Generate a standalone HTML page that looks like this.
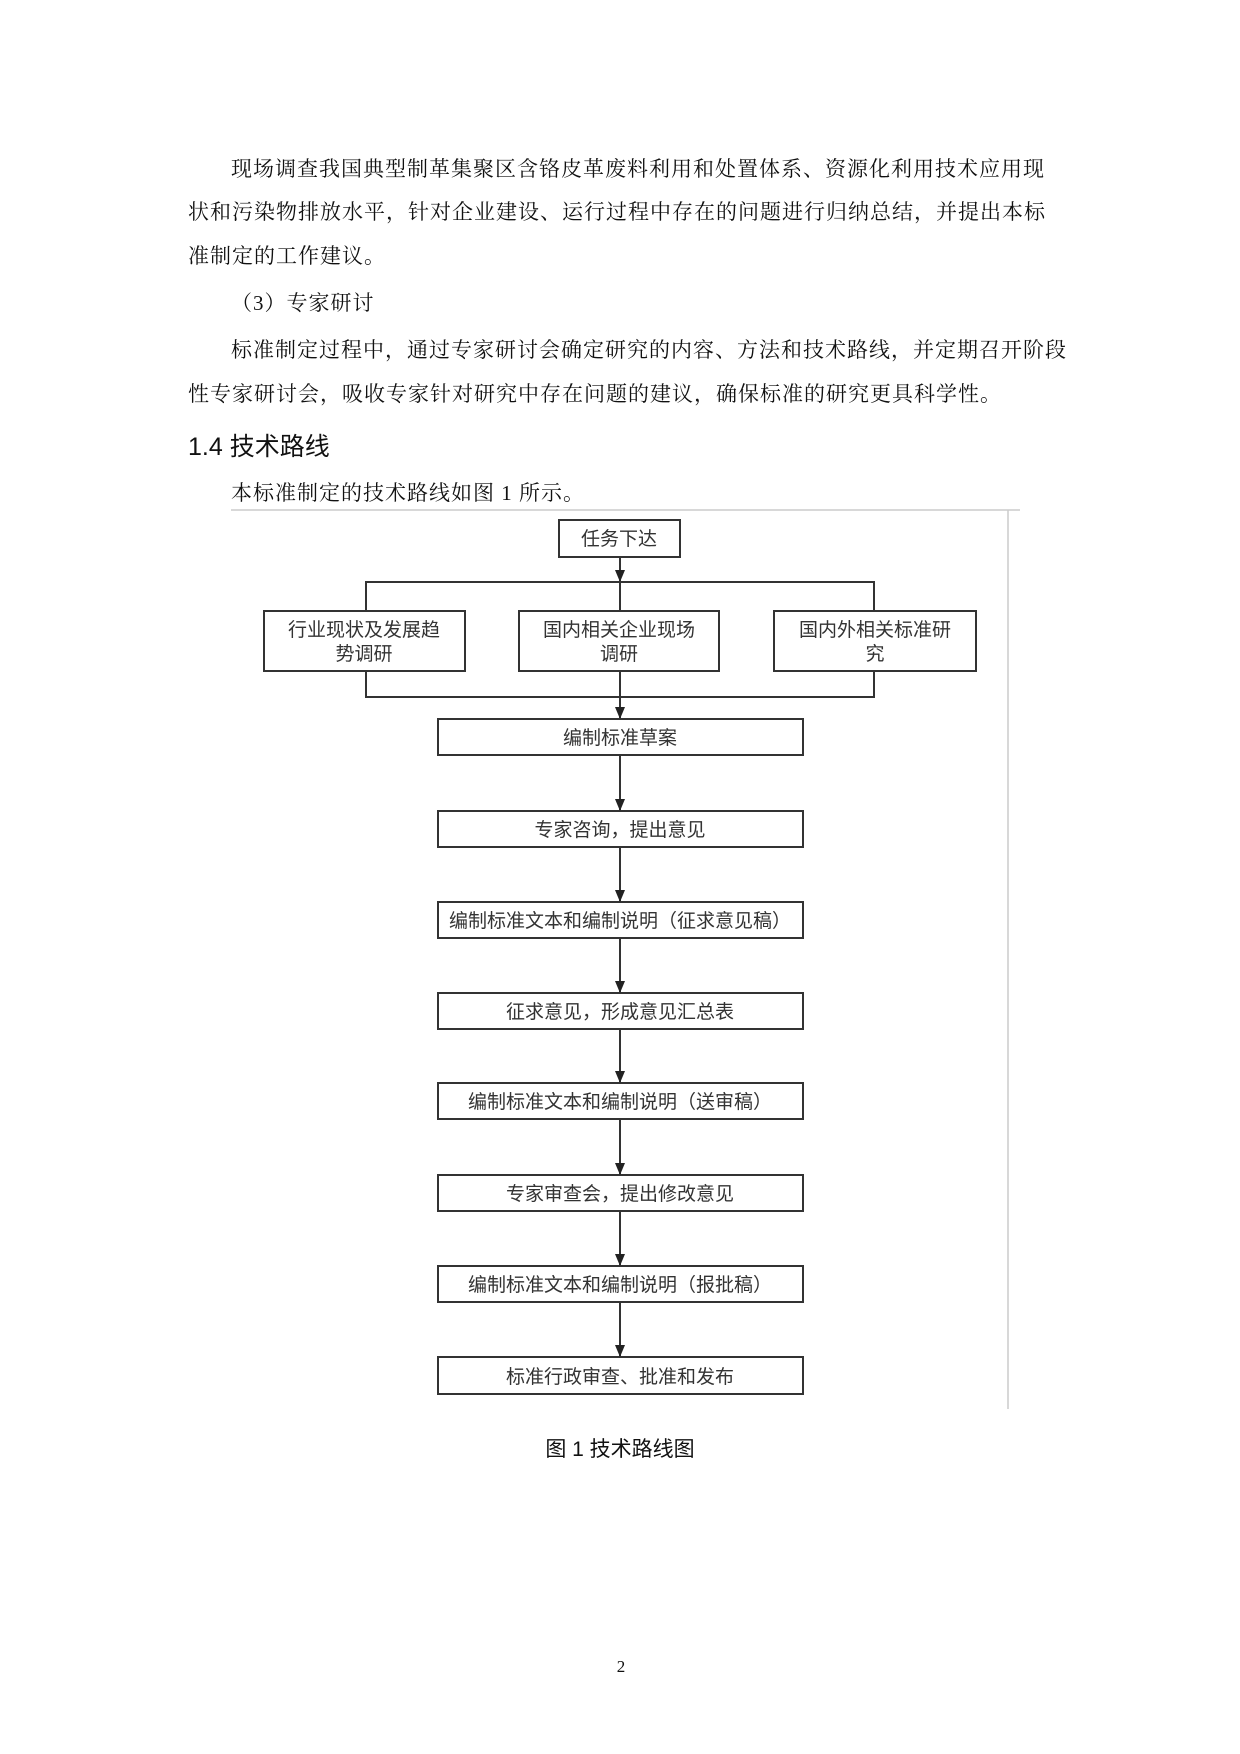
<!DOCTYPE html>
<html><head><meta charset="utf-8"><style>
body{margin:0;width:1240px;height:1754px;background:#fff;position:relative;overflow:hidden;font-family:"Liberation Serif","Noto Serif CJK SC",serif;color:#111}
.p{position:absolute;font-size:21px;letter-spacing:1.0px;white-space:nowrap;line-height:1}
.h{position:absolute;font-family:"Liberation Sans","Noto Sans CJK SC",sans-serif;font-size:25px;line-height:1}
svg text{font-family:"Liberation Sans","Noto Sans CJK SC",sans-serif;font-size:19px;fill:#333;text-anchor:middle}
</style></head><body>
<div class="p" style="left:231px;top:159px">现场调查我国典型制革集聚区含铬皮革废料利用和处置体系、资源化利用技术应用现</div>
<div class="p" style="left:188px;top:202px">状和污染物排放水平，针对企业建设、运行过程中存在的问题进行归纳总结，并提出本标</div>
<div class="p" style="left:188px;top:246px">准制定的工作建议。</div>
<div class="p" style="left:231px;top:293px">（3）专家研讨</div>
<div class="p" style="left:231px;top:340px">标准制定过程中，通过专家研讨会确定研究的内容、方法和技术路线，并定期召开阶段</div>
<div class="p" style="left:188px;top:384px">性专家研讨会，吸收专家针对研究中存在问题的建议，确保标准的研究更具科学性。</div>
<div class="h" style="left:188px;top:435px">1.4 技术路线</div>
<div class="p" style="left:231px;top:483px">本标准制定的技术路线如图 1 所示。</div>
<svg width="1240" height="1754" style="position:absolute;left:0;top:0">
<defs><marker id="a" markerWidth="12" markerHeight="10" refX="12" refY="5" orient="auto" markerUnits="userSpaceOnUse"><path d="M0,0 L12,5 L0,10z" fill="#222"/></marker></defs>
<line x1="231" y1="510" x2="1020" y2="510" stroke="#ccc" stroke-width="1.5"/>
<line x1="1008" y1="510" x2="1008" y2="1409" stroke="#ccc" stroke-width="1.5"/>
<g transform="translate(-3,0)">
<g stroke="#333" stroke-width="2" fill="none">
<rect x="562" y="520" width="121" height="37"/>
<line x1="623" y1="557" x2="623" y2="582" marker-end="url(#a)"/>
<polyline points="369,611 369,582 877,582 877,611"/>
<line x1="623" y1="582" x2="623" y2="611"/>
<rect x="267" y="611" width="201" height="60"/>
<rect x="522" y="611" width="200" height="60"/>
<rect x="777" y="611" width="202" height="60"/>
<polyline points="369,671 369,697 877,697 877,671"/>
<line x1="623" y1="671" x2="623" y2="719" marker-end="url(#a)"/>
<rect x="441" y="719" width="365" height="36"/>
<rect x="441" y="811" width="365" height="36"/>
<rect x="441" y="902" width="365" height="36"/>
<rect x="441" y="993" width="365" height="36"/>
<rect x="441" y="1083" width="365" height="36"/>
<rect x="441" y="1175" width="365" height="36"/>
<rect x="441" y="1266" width="365" height="36"/>
<rect x="441" y="1357" width="365" height="37"/>
<line x1="623" y1="755" x2="623" y2="811" marker-end="url(#a)"/>
<line x1="623" y1="847" x2="623" y2="902" marker-end="url(#a)"/>
<line x1="623" y1="938" x2="623" y2="993" marker-end="url(#a)"/>
<line x1="623" y1="1029" x2="623" y2="1083" marker-end="url(#a)"/>
<line x1="623" y1="1119" x2="623" y2="1175" marker-end="url(#a)"/>
<line x1="623" y1="1211" x2="623" y2="1266" marker-end="url(#a)"/>
<line x1="623" y1="1302" x2="623" y2="1357" marker-end="url(#a)"/>
</g>
<text x="622" y="545">任务下达</text>
<text x="367" y="636">行业现状及发展趋</text><text x="367" y="660">势调研</text>
<text x="622" y="636">国内相关企业现场</text><text x="622" y="660">调研</text>
<text x="878" y="636">国内外相关标准研</text><text x="878" y="660">究</text>
<text x="623" y="744">编制标准草案</text>
<text x="623" y="836">专家咨询，提出意见</text>
<text x="623" y="927">编制标准文本和编制说明（征求意见稿）</text>
<text x="623" y="1018">征求意见，形成意见汇总表</text>
<text x="623" y="1108">编制标准文本和编制说明（送审稿）</text>
<text x="623" y="1200">专家审查会，提出修改意见</text>
<text x="623" y="1291">编制标准文本和编制说明（报批稿）</text>
<text x="623" y="1383">标准行政审查、批准和发布</text>
</g>
<text x="620" y="1456" style="font-size:21px;fill:#111">图 1 技术路线图</text>
<text x="621" y="1672" style="font-family:'Liberation Serif',serif;font-size:17px;fill:#111">2</text>
</svg>
</body></html>
